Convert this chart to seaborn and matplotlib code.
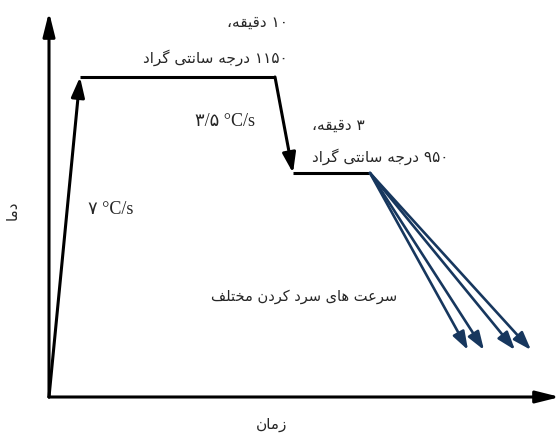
import re
import matplotlib
matplotlib.use('Agg')
import matplotlib.pyplot as plt
import pandas as pd
import seaborn as sns

# ==================== شکل‌دهی حروف فارسی ====================
# matplotlib حروف را به هم نمی‌چسباند، پس فرم‌های نمایشی را خودمان انتخاب می‌کنیم
# (منفرد، پایانی، آغازی، میانی) ؛ None یعنی حرف به بعدی وصل نمی‌شود
FORMS = {
    'ا': ('\uFE8D', '\uFE8E', None, None),
    'ت': ('\uFE95', '\uFE96', '\uFE97', '\uFE98'),
    'ج': ('\uFE9D', '\uFE9E', '\uFE9F', '\uFEA0'),
    'خ': ('\uFEA5', '\uFEA6', '\uFEA7', '\uFEA8'),
    'د': ('\uFEA9', '\uFEAA', None, None),
    'ر': ('\uFEAD', '\uFEAE', None, None),
    'ز': ('\uFEAF', '\uFEB0', None, None),
    'س': ('\uFEB1', '\uFEB2', '\uFEB3', '\uFEB4'),
    'ع': ('\uFEC9', '\uFECA', '\uFECB', '\uFECC'),
    'ف': ('\uFED1', '\uFED2', '\uFED3', '\uFED4'),
    'ق': ('\uFED5', '\uFED6', '\uFED7', '\uFED8'),
    'ل': ('\uFEDD', '\uFEDE', '\uFEDF', '\uFEE0'),
    'م': ('\uFEE1', '\uFEE2', '\uFEE3', '\uFEE4'),
    'ن': ('\uFEE5', '\uFEE6', '\uFEE7', '\uFEE8'),
    'ه': ('\uFEE9', '\uFEEA', '\uFEEB', '\uFEEC'),
    'ی': ('\uFEEF', '\uFEF0', '\uFEF3', '\uFEF4'),
    'ک': ('\uFB8E', '\uFB8F', '\uFB90', '\uFB91'),
    'گ': ('\uFB92', '\uFB93', '\uFB94', '\uFB95'),
}


def fa(text):
    out = []
    for i, c in enumerate(text):
        if c not in FORMS:
            out.append(c)
            continue
        prev = text[i - 1] if i > 0 else ''
        nxt = text[i + 1] if i + 1 < len(text) else ''
        j_prev = prev in FORMS and FORMS[prev][2] is not None
        j_next = FORMS[c][2] is not None and nxt in FORMS
        if j_prev and j_next:
            out.append(FORMS[c][3])
        elif j_prev:
            out.append(FORMS[c][1])
        elif j_next:
            out.append(FORMS[c][2])
        else:
            out.append(FORMS[c][0])
    shaped = ''.join(out)
    # ترتیب دیداری: راست به چپ، ولی اعداد چپ به راست می‌مانند
    tokens = re.findall(r'[۰-۹]+|[^۰-۹]+', shaped)
    return ''.join(t if re.match(r'[۰-۹]', t) else t[::-1] for t in reversed(tokens))


# ==================== داده‌ها (واحدهای شماتیک) ====================
heat_t = [0, 31]
heat_T = [0, 320]
hold1_t = [31, 226]
hold1_T = [320, 320]
cool_t = [226, 244]
cool_T = [320, 224]
hold2_t = [244, 321]
hold2_T = [224, 224]
quench_start = (321, 224)
quench_end_t = [419, 435, 466, 482]
quench_end_T = [47, 47, 47, 47]

label_time = 'زمان'
label_temp = 'دما'
label_hold1 = ['۱۰ دقیقه،', '۱۱۵۰ درجه سانتی گراد']
label_hold2 = ['۳ دقیقه،', '۹۵۰ درجه سانتی گراد']
label_quench = 'سرعت های سرد کردن مختلف'
rate_heat = '۷ °C/s'
rate_cool = '۳/۵ °C/s'

BLACK = 'black'
BLUE = '#17375E'

# ==================== رسم ====================
sns.set_theme(style='white')
plt.rcParams['font.family'] = ['DejaVu Sans']

fig = plt.figure(figsize=(5.6, 4.39), dpi=100)
ax = fig.add_axes([49 / 560, 41 / 439, 511 / 560, 398 / 439])
ax.set_xlim(0, 511)
ax.set_ylim(0, 398)
ax.axis('off')

# محورها با پیکان
axis_arrow = dict(arrowstyle='-|>,head_length=0.72,head_width=0.18', color=BLACK,
                  lw=2.2, shrinkA=0, shrinkB=0, mutation_scale=20)
ax.annotate('', xy=(1, 0), xytext=(0, 0), xycoords='axes fraction',
            textcoords='axes fraction', arrowprops=axis_arrow, annotation_clip=False)
ax.annotate('', xy=(0, 385 / 398), xytext=(0, 0), xycoords='axes fraction',
            textcoords='axes fraction', arrowprops=axis_arrow, annotation_clip=False)

# خطوط افقی (نگهداری در دما)
hold = pd.DataFrame({'t': hold1_t + hold2_t, 'T': hold1_T + hold2_T,
                     'seg': ['a', 'a', 'b', 'b']})
sns.lineplot(data=hold, x='t', y='T', units='seg', estimator=None, color=BLACK,
             lw=2.2, ax=ax, legend=False, solid_capstyle='butt')

# گرم کردن و سرد کردن تا دمای دوم
seg_arrow = dict(arrowstyle='-|>,head_length=0.6,head_width=0.2', color=BLACK,
                 lw=2.2, shrinkA=0, shrinkB=0, mutation_scale=20)
ax.annotate('', xy=(heat_t[1], heat_T[1]), xytext=(heat_t[0], heat_T[0]),
            arrowprops=seg_arrow, annotation_clip=False)
ax.annotate('', xy=(cool_t[1], cool_T[1]), xytext=(cool_t[0], cool_T[0]),
            arrowprops=seg_arrow, annotation_clip=False)

# سرعت‌های مختلف سرد کردن
q_arrow = dict(arrowstyle='-|>,head_length=0.55,head_width=0.19', color=BLUE,
               lw=1.9, shrinkA=0, shrinkB=0, mutation_scale=20)
for qt, qT in zip(quench_end_t, quench_end_T):
    ax.annotate('', xy=(qt, qT), xytext=quench_start, arrowprops=q_arrow)

# متن‌ها
fs = 11
ax.text(239, 376, fa(label_hold1[0]), ha='right', va='center', fontsize=fs)
ax.text(239, 340, fa(label_hold1[1]), ha='right', va='center', fontsize=fs)
ax.text(263, 273, fa(label_hold2[0]), ha='left', va='center', fontsize=fs)
ax.text(263, 241, fa(label_hold2[1]), ha='left', va='center', fontsize=fs)
ax.text(348, 101, fa(label_quench), ha='right', va='center', fontsize=10.5)
ax.text(223, -27, fa(label_time), ha='center', va='center', fontsize=fs, clip_on=False)
ax.text(-37, 188, fa(label_temp), ha='center', va='center', rotation=90,
        fontsize=fs, clip_on=False)

serif = ['Liberation Serif', 'DejaVu Sans']
ax.text(39, 188, rate_heat, ha='left', va='center', fontsize=13, family=serif)
ax.text(146, 276, rate_cool, ha='left', va='center', fontsize=13, family=serif)

fig.savefig('out.png', dpi=100)
